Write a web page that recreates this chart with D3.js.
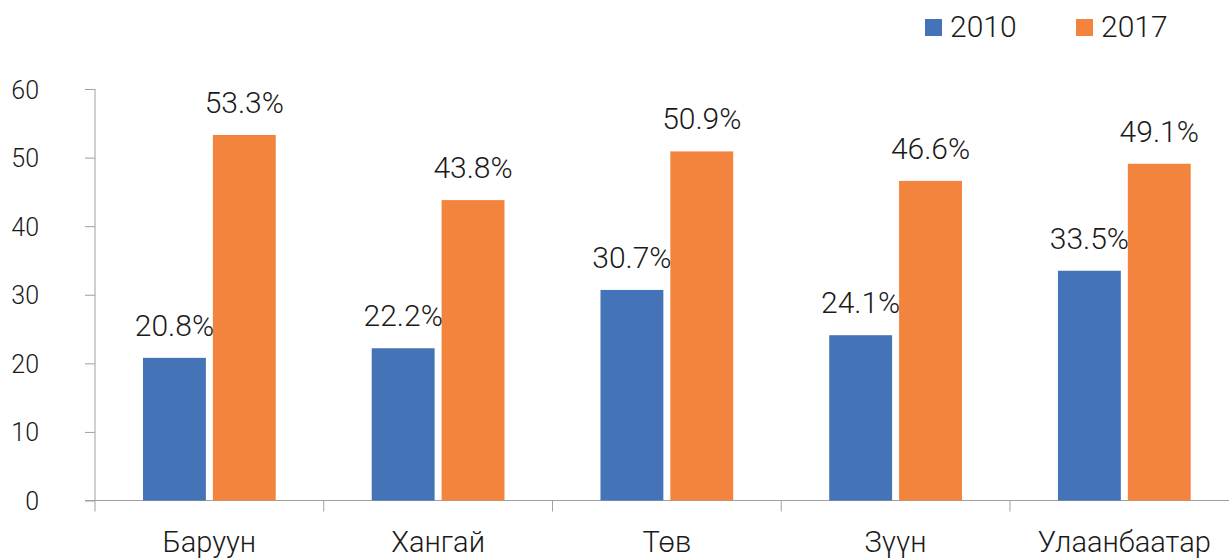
<!DOCTYPE html>
<html>
<head>
<meta charset="utf-8">
<script src="https://cdn.jsdelivr.net/npm/d3@7"></script>
<style>
  body { margin: 0; background: #fff; }
  text { font-family: Roboto, "DejaVu Sans", sans-serif; fill: #1a1a1a; }
</style>
</head>
<body>
<script>
// chart data
var regions = ["Баруун", "Хангай", "Төв", "Зүүн", "Улаанбаатар"];
var years = ["2010", "2017"];
var values2010 = [20.8, 22.2, 30.7, 24.1, 33.5];
var values2017 = [53.3, 43.8, 50.9, 46.6, 49.1];
var yTicks = [0, 10, 20, 30, 40, 50, 60];

var colors = { "2010": "#4573b8", "2017": "#f3843e" };

var width = 1229, height = 558;

var svg = d3.select("body")
  .append("svg")
    .attr("width", width)
    .attr("height", height);

// scales
var x = d3.scaleBand()
  .domain(regions)
  .range([95, 1238.7]);

var y = d3.scaleLinear()
  .domain([0, 60])
  .range([500.5, 89]);

// bars sit in the middle of each band, with a small gap between them
var inner = d3.scaleBand()
  .domain(years)
  .range([48, x.bandwidth() - 48])
  .paddingInner(0.1);

var axisColor = "#a0a0a0";

// y axis
var yAxis = d3.axisLeft(y)
  .tickValues(yTicks)
  .tickSize(10)
  .tickFormat(d3.format("d"));

var gy = svg.append("g")
  .attr("transform", "translate(95,0)")
  .call(yAxis);
gy.select(".domain").attr("stroke", axisColor).attr("d", "M0," + y(60) + "V" + y(0));
gy.selectAll(".tick line").attr("stroke", axisColor);
gy.selectAll(".tick text")
  .attr("x", -56)
  .attr("dy", "0.36em")
  .style("text-anchor", "end")
  .style("font-size", "25px")
  .style("font-weight", 300)
  .style("fill", "#1a1a1a");

// x axis line and ticks at band edges
svg.append("line")
  .attr("x1", 85).attr("x2", width)
  .attr("y1", y(0)).attr("y2", y(0))
  .attr("stroke", axisColor);

var edges = regions.map(function(d) { return x(d); });
svg.selectAll("line.xtick")
  .data(edges)
  .enter().append("line")
    .attr("class", "xtick")
    .attr("x1", function(d) { return d; })
    .attr("x2", function(d) { return d; })
    .attr("y1", y(0))
    .attr("y2", y(0) + 11)
    .attr("stroke", axisColor);

// category labels
svg.selectAll("text.cat")
  .data(regions)
  .enter().append("text")
    .attr("class", "cat")
    .attr("x", function(d) { return x(d) + x.bandwidth() / 2; })
    .attr("y", 552)
    .style("text-anchor", "middle")
    .style("font-size", "29px")
    .style("font-weight", 300)
    .text(function(d) { return d; });

// build rows from the arrays
var rows = [];
regions.forEach(function(r, i) {
  rows.push({ region: r, year: "2010", value: values2010[i] });
  rows.push({ region: r, year: "2017", value: values2017[i] });
});

// bars
svg.selectAll("rect.bar")
  .data(rows)
  .enter().append("rect")
    .attr("class", "bar")
    .attr("x", function(d) { return x(d.region) + inner(d.year); })
    .attr("y", function(d) { return y(d.value); })
    .attr("width", inner.bandwidth())
    .attr("height", function(d) { return y(0) - y(d.value); })
    .style("fill", function(d) { return colors[d.year]; });

// value labels
svg.selectAll("text.val")
  .data(rows)
  .enter().append("text")
    .attr("class", "val")
    .attr("x", function(d) { return x(d.region) + inner(d.year) + inner.bandwidth() / 2; })
    .attr("y", function(d) { return y(d.value) - 22; })
    .style("text-anchor", "middle")
    .style("font-size", "30px")
    .style("font-weight", 300)
    .text(function(d) { return d.value.toFixed(1) + "%"; });

// legend
var legend = svg.selectAll(".legend")
  .data(years)
  .enter().append("g")
    .attr("class", "legend")
    .attr("transform", function(d, i) { return "translate(" + (925 + i * 151) + ",19)"; });

legend.append("rect")
  .attr("width", 17)
  .attr("height", 17)
  .style("fill", function(d) { return colors[d]; });

legend.append("text")
  .attr("x", 25)
  .attr("y", 17.5)
  .style("font-size", "30px")
  .style("font-weight", 300)
  .text(function(d) { return d; });
</script>
</body>
</html>
